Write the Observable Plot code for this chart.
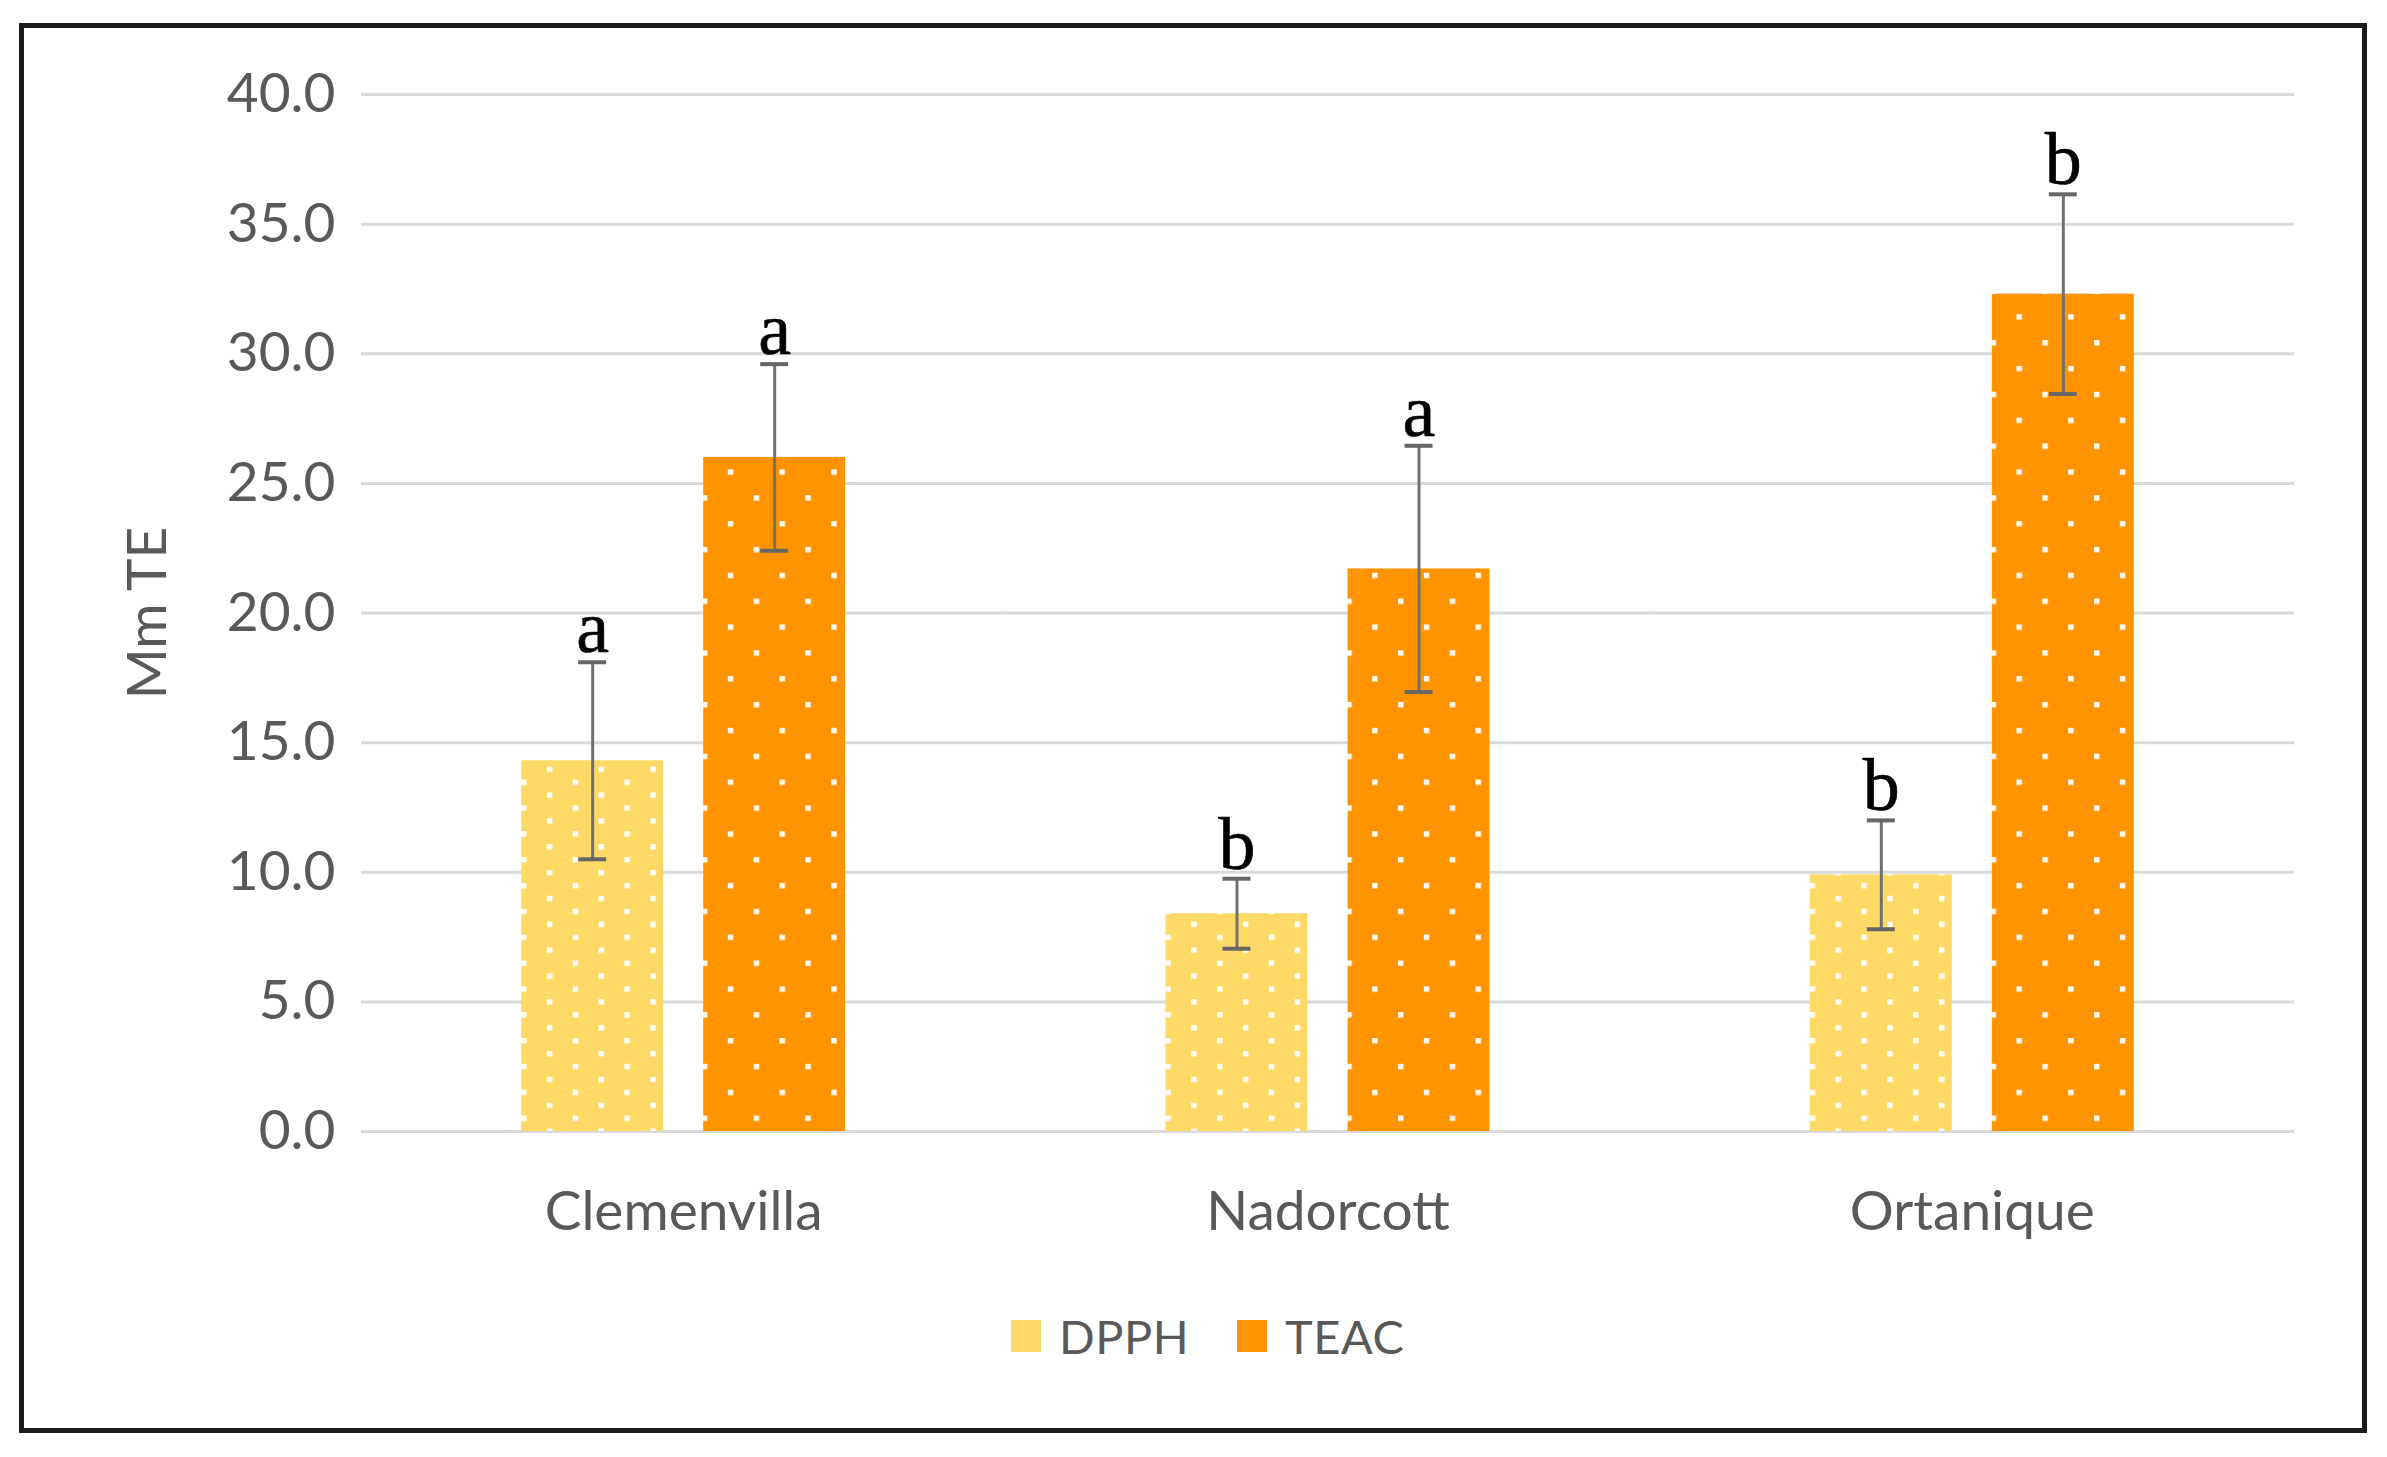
<!DOCTYPE html>
<html>
<head>
<meta charset="utf-8">
<script src="https://cdn.jsdelivr.net/npm/d3@7"></script>
<script src="https://cdn.jsdelivr.net/npm/@observablehq/plot@0.6"></script>
<style>
  html, body { margin: 0; padding: 0; background: #ffffff; }
  #page { position: relative; width: 2387px; height: 1457px; overflow: hidden; background: #fff; }
  #frame { position: absolute; left: 19px; top: 23px; width: 2348px; height: 1410px; box-sizing: border-box; border: 5px solid #1c1c1c; pointer-events: none; }
  #chart { position: absolute; left: 0; top: 0; }
  #legend { position: absolute; left: 1011px; top: 1310px; height: 52px; display: flex; align-items: center; font-family: Lato, sans-serif; font-size: 47px; color: #595959; }
  .sw { width: 30px; height: 32px; display: inline-block; }
  .lab { margin-left: 18px; letter-spacing: 0.5px; }
</style>
</head>
<body>
<div id="page">
  <div id="chart"></div>
  <div id="legend"></div>
  <div id="frame"></div>
</div>
<script>
const categories = ["Clemenvilla", "Nadorcott", "Ortanique"];
const series = ["DPPH", "TEAC"];
const dpphMean = [14.3, 8.4, 9.9];
const dpphErr = [3.8, 1.35, 2.1];
const dpphLetters = ["a", "b", "b"];
const teacMean = [26.0, 21.7, 32.3];
const teacErr = [3.6, 4.75, 3.85];
const teacLetters = ["a", "a", "b"];
const yTicks = [0, 5, 10, 15, 20, 25, 30, 35, 40];
const seriesColors = ["#FFD966", "#FF9300"];

const data = [];
categories.forEach((c, i) => {
  data.push({category: c, series: "DPPH", value: dpphMean[i], err: dpphErr[i], letter: dpphLetters[i]});
  data.push({category: c, series: "TEAC", value: teacMean[i], err: teacErr[i], letter: teacLetters[i]});
});

const svg = Plot.plot({
  width: 2387,
  height: 1300,
  marginLeft: 361,
  marginRight: 93,
  marginTop: 94,
  marginBottom: 169,
  style: {fontFamily: "Lato, sans-serif", fontSize: "55px", color: "#595959", background: "transparent"},
  fx: {domain: categories, paddingInner: 0, paddingOuter: 0, round: false, axis: "bottom", tickSize: 0, tickPadding: 59, label: null},
  x: {domain: series, paddingInner: 0.22, paddingOuter: 0.88, round: false, axis: null},
  y: {domain: [0, 40], ticks: yTicks, tickFormat: d3.format(".1f"), tickSize: 0, tickPadding: 26, label: null},
  color: {domain: series, range: ["url(#pat-dpph)", "url(#pat-teac)"], type: "ordinal"},
  marks: [
    Plot.gridY(yTicks, {stroke: "#d9d9d9", strokeOpacity: 1, strokeWidth: 3}),
    Plot.barY(data, {fx: "category", x: "series", y: "value", fill: "series"}),
    Plot.ruleX(data, {fx: "category", x: "series", y1: d => d.value - d.err, y2: d => d.value + d.err, stroke: "#707070", strokeWidth: 3}),
    Plot.tickY(data, {fx: "category", x: "series", y: d => d.value + d.err, stroke: "#666666", strokeWidth: 4, insetLeft: 57, insetRight: 57}),
    Plot.tickY(data, {fx: "category", x: "series", y: d => d.value - d.err, stroke: "#666666", strokeWidth: 4, insetLeft: 57, insetRight: 57}),
    Plot.text(data, {fx: "category", x: "series", y: d => d.value + d.err, text: "letter", lineAnchor: "bottom", dy: -10, fontFamily: "Liberation Serif, serif", fontSize: 74, fill: "#000000", stroke: "#000000", strokeWidth: 0.6}),
    Plot.text(["Mm TE"], {frameAnchor: "left", textAnchor: "middle", lineAnchor: "middle", dx: -213, rotate: -90, fill: "#595959", fontSize: 55, facetAnchor: "left"})
  ]
});

// dotted pattern fills
const defs = d3.select(svg).insert("defs", ":first-child");
function addPattern(id, color, w, h) {
  const p = defs.append("pattern").attr("id", id).attr("patternUnits", "userSpaceOnUse")
    .attr("x", 0).attr("y", 0).attr("width", w).attr("height", h);
  p.append("rect").attr("width", w).attr("height", h).attr("fill", color);
  p.append("rect").attr("x", 4).attr("y", 4).attr("width", 5.5).attr("height", 5.5).attr("fill", "#ffffff").attr("fill-opacity", 0.95);
  p.append("rect").attr("x", 4 + w / 2).attr("y", 4 + h / 2).attr("width", 5.5).attr("height", 5.5).attr("fill", "#ffffff").attr("fill-opacity", 0.95);
}
addPattern("pat-dpph", seriesColors[0], 51.7, 25.85);
addPattern("pat-teac", seriesColors[1], 51.7, 51.7);

document.getElementById("chart").appendChild(svg);

// legend
const legend = document.getElementById("legend");
series.forEach((s, i) => {
  const sw = document.createElement("span");
  sw.className = "sw";
  sw.style.background = seriesColors[i];
  if (i > 0) sw.style.marginLeft = "48px";
  const lab = document.createElement("span");
  lab.className = "lab";
  lab.textContent = s;
  legend.appendChild(sw);
  legend.appendChild(lab);
});
</script>
</body>
</html>
